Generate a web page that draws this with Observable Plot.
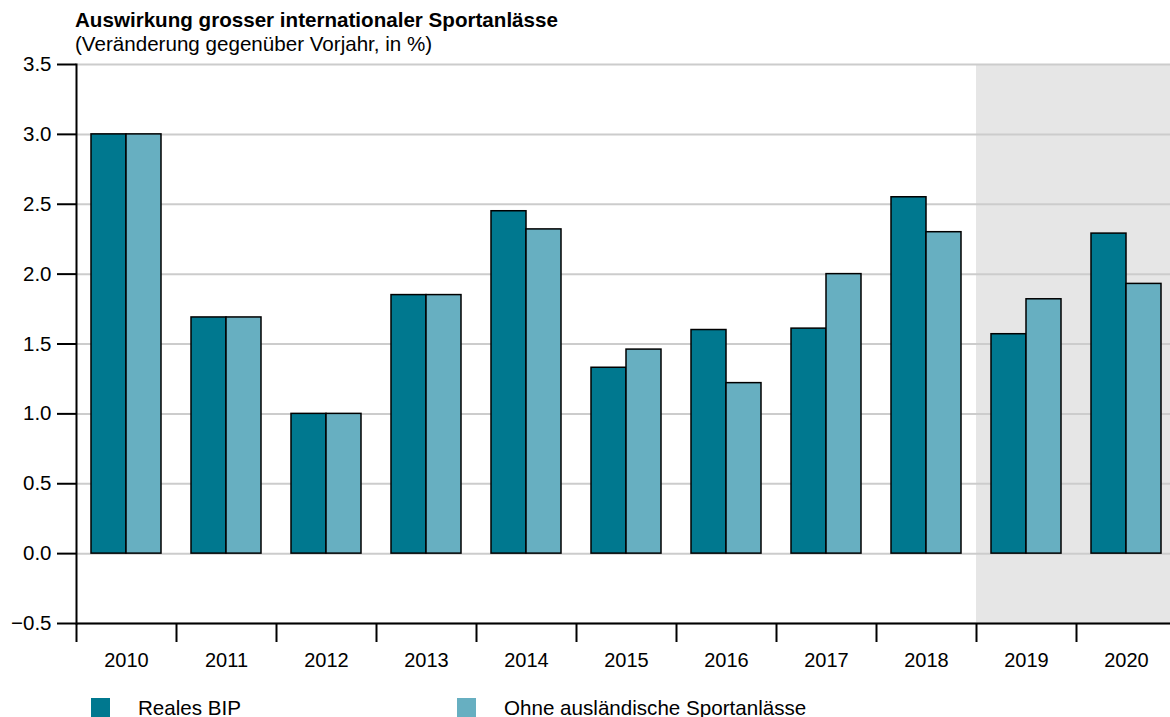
<!DOCTYPE html>
<html>
<head>
<meta charset="utf-8">
<script src="https://cdn.jsdelivr.net/npm/d3@7"></script>
<script src="https://cdn.jsdelivr.net/npm/@observablehq/plot@0.6"></script>
<style>
  html, body { margin: 0; padding: 0; background: #fff; overflow: hidden; }
  body { width: 1170px; height: 717px; position: relative; font-family: "Liberation Sans", Arial, Helvetica, sans-serif; color: #000; }
  #title { position: absolute; left: 75px; top: 8px; font-size: 20.6px; font-weight: bold; white-space: nowrap; }
  #subtitle { position: absolute; left: 75px; top: 32px; font-size: 20.6px; white-space: nowrap; }
  #chart { position: absolute; left: 0; top: 0; }
  #chart svg { overflow: visible; }
  .legend { position: absolute; top: 697px; font-size: 20.6px; white-space: nowrap; }
  .legend .sw { position: absolute; left: 0; top: 1px; width: 19px; height: 19px; }
  .legend .lb { position: absolute; left: 47px; top: 0; line-height: 21px; }
</style>
</head>
<body>
<div id="chart"></div>
<div id="title">Auswirkung grosser internationaler Sportanlässe</div>
<div id="subtitle">(Veränderung gegenüber Vorjahr, in %)</div>
<div class="legend" style="left:91px"><div class="sw" style="background:#00788f"></div><div class="lb">Reales BIP</div></div>
<div class="legend" style="left:457px"><div class="sw" style="background:#67afc1"></div><div class="lb">Ohne ausländische Sportanlässe</div></div>
<script>
const years = ["2010","2011","2012","2013","2014","2015","2016","2017","2018","2019","2020"];
const realesBIP = [3.0, 1.69, 1.0, 1.85, 2.45, 1.33, 1.60, 1.61, 2.55, 1.57, 2.29];
const ohneSport = [3.0, 1.69, 1.0, 1.85, 2.32, 1.46, 1.22, 2.00, 2.30, 1.82, 1.93];
const forecastYears = ["2019", "2020"];
const yTicks = [-0.5, 0, 0.5, 1.0, 1.5, 2.0, 2.5, 3.0, 3.5];

const colDark = "#00788f";
const colLight = "#67afc1";

const rows = years.map((y, i) => ({year: y, bip: realesBIP[i], ohne: ohneSport[i]}));

const chart = Plot.plot({
  width: 1170,
  height: 690,
  marginTop: 64,
  marginBottom: 67,
  marginLeft: 76,
  marginRight: 0,
  style: {fontFamily: "'Liberation Sans', Arial, Helvetica, sans-serif", fontSize: "20px", color: "#000", background: "transparent"},
  x: {domain: years, range: [76, 1176], padding: 0},
  y: {domain: [-0.5, 3.5]},
  marks: [
    Plot.barY(forecastYears, {x: d => d, y1: -0.5, y2: 3.5, fill: "#e6e6e6"}),
    Plot.gridY(yTicks, {stroke: "#cccccc", strokeOpacity: 1, strokeWidth: 2}),
    Plot.barY(rows, {x: "year", y: "bip", fill: colDark, stroke: "#000", strokeWidth: 1.5, insetLeft: 15, insetRight: 50}),
    Plot.barY(rows, {x: "year", y: "ohne", fill: colLight, stroke: "#000", strokeWidth: 1.5, insetLeft: 50, insetRight: 15}),
    Plot.axisY(yTicks, {tickSize: 19, tickPadding: 6, strokeWidth: 2, tickFormat: d3.format(".1f"), label: null, fontSize: 20.5}),
    Plot.axisX({tickSize: 19, tickFormat: () => "", dx: -50, strokeWidth: 2, label: null}),
    Plot.axisX({tickSize: 0, tickPadding: 29, label: null, fontSize: 20}),
    Plot.frame({anchor: "left", stroke: "#000", strokeWidth: 2}),
    Plot.ruleY([-0.5], {stroke: "#000", strokeWidth: 2})
  ]
});
document.getElementById("chart").appendChild(chart);
</script>
</body>
</html>
